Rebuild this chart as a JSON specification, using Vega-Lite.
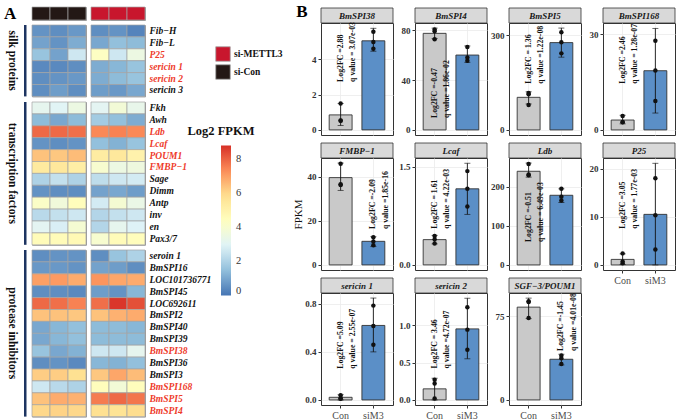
{
  "$schema": "https://vega.github.io/schema/vega-lite/v6.json",
  "padding": {"left": 3, "top": 3, "right": 0, "bottom": 0},
  "config": {
    "font": "Liberation Serif",
    "view": {"stroke": null},
    "axisLeft": {"grid": true, "gridColor": "#ebebeb", "gridWidth": 0.8, "domain": false, "tickSize": 3, "tickColor": "#333", "labelFontSize": 9, "labelFontWeight": "bold", "labelColor": "#333", "labelPadding": 2, "titleFontWeight": "normal", "titleFontSize": 11, "titleColor": "#111", "titlePadding": 4},
    "axisBottom": {"grid": true, "gridColor": "#ebebeb", "gridWidth": 0.8, "domain": false, "tickSize": 3, "tickColor": "#333", "labelFontSize": 10, "labelColor": "#4d4d4d", "labelPadding": 2, "bandPosition": 0.5, "labelAngle": 0}
  },
  "datasets": {
    "heat": [
      {"gene":"Fib\u2212H","cat":"silk","C1":0.6,"C2":0.5,"C3":0.7,"M1":0.5,"M2":0.6,"M3":0.3},
      {"gene":"Fib\u2212L","cat":"silk","C1":0.9,"C2":0.6,"C3":1.1,"M1":1.0,"M2":1.5,"M3":1.4},
      {"gene":"P25","cat":"silk","C1":1.6,"C2":0.9,"C3":2.6,"M1":4.3,"M2":2.6,"M3":3.5},
      {"gene":"sericin 1","cat":"silk","C1":0.4,"C2":0.4,"C3":0.5,"M1":1.1,"M2":1.3,"M3":1.6},
      {"gene":"sericin 2","cat":"silk","C1":0.5,"C2":0.6,"C3":0.7,"M1":1.1,"M2":1.4,"M3":1.6},
      {"gene":"sericin 3","cat":"silk","C1":0.5,"C2":0.8,"C3":0.5,"M1":0.8,"M2":0.7,"M3":1.0},
      {"gene":"Fkh","cat":"tf","C1":3.2,"C2":3.0,"C3":3.5,"M1":3.1,"M2":3.8,"M3":3.3},
      {"gene":"Awh","cat":"tf","C1":1.4,"C2":1.0,"C3":1.4,"M1":1.8,"M2":1.5,"M3":1.1},
      {"gene":"Ldb","cat":"tf","C1":7.9,"C2":7.9,"C3":7.8,"M1":7.4,"M2":7.5,"M3":7.4},
      {"gene":"Lcaf","cat":"tf","C1":0.6,"C2":0.5,"C3":0.6,"M1":1.5,"M2":1.2,"M3":1.6},
      {"gene":"POUM1","cat":"tf","C1":6.4,"C2":6.3,"C3":6.5,"M1":5.3,"M2":5.5,"M3":5.0},
      {"gene":"FMBP\u22121","cat":"tf","C1":5.4,"C2":5.5,"C3":5.2,"M1":4.0,"M2":3.5,"M3":3.6},
      {"gene":"Sage","cat":"tf","C1":2.0,"C2":2.4,"C3":2.0,"M1":2.3,"M2":2.6,"M3":2.7},
      {"gene":"Dimm","cat":"tf","C1":0.6,"C2":0.5,"C3":0.5,"M1":0.9,"M2":1.0,"M3":0.8},
      {"gene":"Antp","cat":"tf","C1":4.2,"C2":3.7,"C3":4.5,"M1":2.7,"M2":3.9,"M3":3.4},
      {"gene":"inv","cat":"tf","C1":2.2,"C2":2.4,"C3":2.6,"M1":2.1,"M2":2.4,"M3":2.6},
      {"gene":"en","cat":"tf","C1":3.1,"C2":2.8,"C3":3.9,"M1":2.1,"M2":3.2,"M3":2.9},
      {"gene":"Pax3/7","cat":"tf","C1":4.6,"C2":4.6,"C3":4.7,"M1":4.0,"M2":4.6,"M3":4.5},
      {"gene":"seroin 1","cat":"pi","C1":0.5,"C2":0.6,"C3":0.6,"M1":0.5,"M2":1.6,"M3":2.0},
      {"gene":"BmSPI16","cat":"pi","C1":0.7,"C2":0.7,"C3":0.6,"M1":0.9,"M2":0.8,"M3":0.5},
      {"gene":"LOC101736771","cat":"pi","C1":7.0,"C2":7.1,"C3":6.8,"M1":7.2,"M2":6.9,"M3":6.8},
      {"gene":"BmSPI45","cat":"pi","C1":0.5,"C2":0.5,"C3":0.4,"M1":0.8,"M2":0.6,"M3":1.3},
      {"gene":"LOC692611","cat":"pi","C1":7.9,"C2":7.8,"C3":7.5,"M1":7.8,"M2":8.7,"M3":8.3},
      {"gene":"BmSPI2","cat":"pi","C1":6.4,"C2":6.4,"C3":6.3,"M1":6.4,"M2":6.7,"M3":6.8},
      {"gene":"BmSPI40","cat":"pi","C1":1.0,"C2":1.3,"C3":1.5,"M1":1.4,"M2":1.4,"M3":1.3},
      {"gene":"BmSPI39","cat":"pi","C1":1.0,"C2":1.3,"C3":1.5,"M1":1.4,"M2":1.4,"M3":1.4},
      {"gene":"BmSPI38","cat":"pi","C1":1.6,"C2":1.0,"C3":1.2,"M1":2.6,"M2":2.6,"M3":3.2},
      {"gene":"BmSPI36","cat":"pi","C1":0.5,"C2":0.6,"C3":0.4,"M1":1.3,"M2":1.2,"M3":1.5},
      {"gene":"BmSPI3","cat":"pi","C1":6.2,"C2":6.2,"C3":5.8,"M1":6.3,"M2":6.9,"M3":6.5},
      {"gene":"BmSPI168","cat":"pi","C1":2.6,"C2":2.2,"C3":2.0,"M1":4.5,"M2":3.8,"M3":4.5},
      {"gene":"BmSPI5","cat":"pi","C1":6.4,"C2":6.8,"C3":6.7,"M1":7.6,"M2":7.9,"M3":7.7},
      {"gene":"BmSPI4","cat":"pi","C1":6.0,"C2":6.1,"C3":6.0,"M1":5.8,"M2":5.7,"M3":5.9}
    ],
    "bars": [
      {"gene":"BmSPI38","group":"Con","mean":0.85,"low":0.25,"high":1.5},
      {"gene":"BmSPI38","group":"siM3","mean":5.05,"low":4.46,"high":5.76},
      {"gene":"BmSPI4","group":"Con","mean":77.4,"low":73.2,"high":81.6},
      {"gene":"BmSPI4","group":"siM3","mean":60,"low":54.2,"high":67.3},
      {"gene":"BmSPI5","group":"Con","mean":103,"low":82,"high":120.5},
      {"gene":"BmSPI5","group":"siM3","mean":276,"low":230,"high":322},
      {"gene":"BmSPI168","group":"Con","mean":3.1,"low":1.9,"high":4.6},
      {"gene":"BmSPI168","group":"siM3","mean":18.6,"low":5.3,"high":31.9},
      {"gene":"FMBP-1","group":"Con","mean":39.6,"low":33.8,"high":46.2},
      {"gene":"FMBP-1","group":"siM3","mean":10.7,"low":8.3,"high":12.8},
      {"gene":"Lcaf","group":"Con","mean":0.385,"low":0.32,"high":0.45},
      {"gene":"Lcaf","group":"siM3","mean":1.16,"low":0.77,"high":1.55},
      {"gene":"Ldb","group":"Con","mean":240,"low":225,"high":261},
      {"gene":"Ldb","group":"siM3","mean":178.5,"low":160,"high":195},
      {"gene":"P25","group":"Con","mean":1.15,"low":0.1,"high":2.3},
      {"gene":"P25","group":"siM3","mean":10.5,"low":0,"high":21.1},
      {"gene":"sericin 1","group":"Con","mean":0.022,"low":0,"high":0.044},
      {"gene":"sericin 1","group":"siM3","mean":0.62,"low":0.4,"high":0.848},
      {"gene":"sericin 2","group":"Con","mean":0.148,"low":0,"high":0.29},
      {"gene":"sericin 2","group":"siM3","mean":0.95,"low":0.55,"high":1.36},
      {"gene":"SGF-3/POUM1","group":"Con","mean":83.3,"low":73,"high":91.4},
      {"gene":"SGF-3/POUM1","group":"siM3","mean":36.5,"low":31.4,"high":41}
    ],
    "pts": [
      {"gene":"BmSPI38","group":"Con","value":1.5},{"gene":"BmSPI38","group":"Con","value":0.52},{"gene":"BmSPI38","group":"Con","value":0.53},
      {"gene":"BmSPI38","group":"siM3","value":5.57},{"gene":"BmSPI38","group":"siM3","value":4.6},{"gene":"BmSPI38","group":"siM3","value":4.98},
      {"gene":"BmSPI4","group":"Con","value":80.5},{"gene":"BmSPI4","group":"Con","value":72.6},{"gene":"BmSPI4","group":"Con","value":79.1},
      {"gene":"BmSPI4","group":"siM3","value":66.5},{"gene":"BmSPI4","group":"siM3","value":55.5},{"gene":"BmSPI4","group":"siM3","value":58},
      {"gene":"BmSPI5","group":"Con","value":117},{"gene":"BmSPI5","group":"Con","value":79},{"gene":"BmSPI5","group":"Con","value":113},
      {"gene":"BmSPI5","group":"siM3","value":309},{"gene":"BmSPI5","group":"siM3","value":242},{"gene":"BmSPI5","group":"siM3","value":277},
      {"gene":"BmSPI168","group":"Con","value":4.4},{"gene":"BmSPI168","group":"Con","value":2.4},{"gene":"BmSPI168","group":"Con","value":2.5},
      {"gene":"BmSPI168","group":"siM3","value":28},{"gene":"BmSPI168","group":"siM3","value":9.1},{"gene":"BmSPI168","group":"siM3","value":18.7},
      {"gene":"FMBP-1","group":"Con","value":45.9},{"gene":"FMBP-1","group":"Con","value":36.6},{"gene":"FMBP-1","group":"Con","value":36.3},
      {"gene":"FMBP-1","group":"siM3","value":12.6},{"gene":"FMBP-1","group":"siM3","value":8.9},{"gene":"FMBP-1","group":"siM3","value":10.6},
      {"gene":"Lcaf","group":"Con","value":0.44},{"gene":"Lcaf","group":"Con","value":0.325},{"gene":"Lcaf","group":"Con","value":0.39},
      {"gene":"Lcaf","group":"siM3","value":1.43},{"gene":"Lcaf","group":"siM3","value":0.89},{"gene":"Lcaf","group":"siM3","value":1.16},
      {"gene":"Ldb","group":"Con","value":258.5},{"gene":"Ldb","group":"Con","value":232},{"gene":"Ldb","group":"Con","value":230},
      {"gene":"Ldb","group":"siM3","value":195},{"gene":"Ldb","group":"siM3","value":165},{"gene":"Ldb","group":"siM3","value":175},
      {"gene":"P25","group":"Con","value":2.4},{"gene":"P25","group":"Con","value":0.35},{"gene":"P25","group":"Con","value":0.7},
      {"gene":"P25","group":"siM3","value":18},{"gene":"P25","group":"siM3","value":3.2},{"gene":"P25","group":"siM3","value":10.3},
      {"gene":"sericin 1","group":"Con","value":0.04},{"gene":"sericin 1","group":"Con","value":0.015},{"gene":"sericin 1","group":"Con","value":0.01},
      {"gene":"sericin 1","group":"siM3","value":0.785},{"gene":"sericin 1","group":"siM3","value":0.46},{"gene":"sericin 1","group":"siM3","value":0.615},
      {"gene":"sericin 2","group":"Con","value":0.27},{"gene":"sericin 2","group":"Con","value":0.22},{"gene":"sericin 2","group":"Con","value":0.02},
      {"gene":"sericin 2","group":"siM3","value":1.24},{"gene":"sericin 2","group":"siM3","value":0.67},{"gene":"sericin 2","group":"siM3","value":0.94},
      {"gene":"SGF-3/POUM1","group":"Con","value":88.7},{"gene":"SGF-3/POUM1","group":"Con","value":73.6},{"gene":"SGF-3/POUM1","group":"Con","value":88},
      {"gene":"SGF-3/POUM1","group":"siM3","value":39.8},{"gene":"SGF-3/POUM1","group":"siM3","value":32.3},{"gene":"SGF-3/POUM1","group":"siM3","value":37.4}
    ],
    "ann": [
      {"gene":"BmSPI38","group":"Con","y":2.72,"lines":["Log2FC =2.88","q value = 3.07e-03"]},
      {"gene":"BmSPI4","group":"Con","y":9.5,"lines":["Log2FC =-0.47","q value =1.86e-02"]},
      {"gene":"BmSPI5","group":"Con","y":146,"lines":["Log2FC = 1.36","q value =1.22e-08"]},
      {"gene":"BmSPI168","group":"Con","y":14.5,"lines":["Log2FC =2.46","q value = 1.28e-07"]},
      {"gene":"FMBP-1","group":"siM3","y":16.3,"lines":["Log2FC =-2.09","q value =1.85e-16"]},
      {"gene":"Lcaf","group":"Con","y":0.55,"lines":["Log2FC = 1.61","q value = 4.22e-03"]},
      {"gene":"Ldb","group":"Con","y":58.5,"lines":["Log2FC =-0.51","q value = 6.49e-03"]},
      {"gene":"P25","group":"Con","y":7.5,"lines":["Log2FC =3.05","q value = 1.77e-03"]},
      {"gene":"sericin 1","group":"Con","y":0.26,"lines":["Log2FC =5.09","q value = 2.55e-07"]},
      {"gene":"sericin 2","group":"Con","y":0.42,"lines":["Log2FC = 3.46","q value =4.72e-07"]},
      {"gene":"SGF-3/POUM1","group":"siM3","y":43.9,"lines":["Log2FC =-1.45","q value =4.01e-08"]}
    ]
  },
  "spacing": 79,
  "hconcat": [
    {
      "concat": [
        {"width": 2.5, "height": 13, "data": {"values": [{"t": "A"}]}, "mark": {"type": "text", "fontSize": 17, "fontWeight": "bold", "align": "right", "dx": -9, "color": "#000"}, "encoding": {"text": {"field": "t"}}},
        {"width": 54, "height": 13, "view": {"stroke": "#9a9a9a", "strokeWidth": 1},
         "data": {"values": [{"s":"C1","cond":"si-Con"},{"s":"C2","cond":"si-Con"},{"s":"C3","cond":"si-Con"}]},
         "mark": {"type": "rect", "stroke": "#a3a3a3", "strokeWidth": 0.7},
         "encoding": {"x": {"field": "s", "type": "nominal", "axis": null, "scale": {"paddingInner": 0, "paddingOuter": 0}},
           "fill": {"field": "cond", "type": "nominal", "scale": {"domain": ["si-METTL3","si-Con"], "range": ["#c8162d","#231815"]}}}},
        {"width": 54, "height": 13, "view": {"stroke": "#9a9a9a", "strokeWidth": 1},
         "data": {"values": [{"s":"M1","cond":"si-METTL3"},{"s":"M2","cond":"si-METTL3"},{"s":"M3","cond":"si-METTL3"}]},
         "mark": {"type": "rect", "stroke": "#a3a3a3", "strokeWidth": 0.7},
         "encoding": {"x": {"field": "s", "type": "nominal", "axis": null, "scale": {"paddingInner": 0, "paddingOuter": 0}},
           "fill": {"field": "cond", "type": "nominal", "scale": {"domain": ["si-METTL3","si-Con"], "range": ["#c8162d","#231815"]},
             "legend": {"orient": "none", "legendX": 191, "legendY": 39, "title": null, "symbolType": "square", "symbolSize": 210, "symbolStrokeColor": "#999", "symbolStrokeWidth": 0.8, "rowPadding": 0, "labelFontSize": 9.5, "labelFontWeight": "bold", "labelColor": "#111", "labelOffset": 3, "padding": 0}}}},
        {"width": 2.5, "height": 71.4, "view": {"fill": "#1d3461", "stroke": null},
         "title": {"text": "silk proteins", "orient": "left", "anchor": "middle", "angle": 90, "offset": -5, "fontSize": 11.5, "fontWeight": "bold", "color": "#111"},
         "data": {"values": [{}]}, "mark": "text", "encoding": {"text": {"value": ""}}},
        {"width": 54, "height": {"step": 11.9}, "view": {"stroke": "#9a9a9a", "strokeWidth": 1},
         "data": {"name": "heat"}, "transform": [{"filter": "datum.cat === 'silk'"}, {"fold": ["C1","C2","C3"], "as": ["s","v"]}],
         "mark": {"type": "rect", "stroke": "#a3a3a3", "strokeWidth": 0.7},
         "encoding": {"x": {"field": "s", "type": "nominal", "axis": null, "scale": {"paddingInner": 0, "paddingOuter": 0}},
           "y": {"field": "gene", "type": "nominal", "sort": null, "axis": null, "scale": {"paddingInner": 0, "paddingOuter": 0}},
           "color": {"field": "v", "type": "quantitative", "scale": {"domain": [0,1.4667,2.9333,4.4,5.8667,7.3333,8.8], "range": ["#4575b4","#91bfdb","#e0f3f8","#ffffbf","#fee090","#fc8d59","#d73027"], "interpolate": "rgb"}}}},
        {"width": 54, "height": {"step": 11.9}, "view": {"stroke": "#9a9a9a", "strokeWidth": 1},
         "data": {"name": "heat"}, "transform": [{"filter": "datum.cat === 'silk'"}, {"fold": ["M1","M2","M3"], "as": ["s","v"]}],
         "mark": {"type": "rect", "stroke": "#a3a3a3", "strokeWidth": 0.7},
         "encoding": {"x": {"field": "s", "type": "nominal", "axis": null, "scale": {"paddingInner": 0, "paddingOuter": 0}},
           "y": {"field": "gene", "type": "nominal", "sort": null, "scale": {"paddingInner": 0, "paddingOuter": 0},
             "axis": {"orient": "right", "title": null, "ticks": false, "domain": false, "grid": false, "labelPadding": 4, "labelFontSize": 9.5, "labelFontStyle": "italic", "labelFontWeight": "bold",
               "labelColor": {"condition": {"test": "indexof(['P25','sericin 1','sericin 2','Ldb','Lcaf','POUM1','FMBP\u22121','BmSPI38','BmSPI168','BmSPI5','BmSPI4'], datum.value) >= 0", "value": "#ee3b2b"}, "value": "#111"}}},
           "color": {"field": "v", "type": "quantitative", "scale": {"domain": [0,1.4667,2.9333,4.4,5.8667,7.3333,8.8], "range": ["#4575b4","#91bfdb","#e0f3f8","#ffffbf","#fee090","#fc8d59","#d73027"], "interpolate": "rgb"},
             "legend": {"orient": "none", "legendX": 163, "legendY": 118, "title": "Log2 FPKM", "titleFontSize": 12.5, "titleFontWeight": "bold", "titleColor": "#111", "titleAnchor": "start", "titleAlign": "center", "titlePadding": 8, "direction": "vertical", "gradientLength": 150, "gradientThickness": 10, "values": [0,2,4,6,8], "labelFontSize": 10.5, "labelColor": "#333", "labelOffset": 5, "gradientStrokeWidth": 0, "padding": 0}}}},
        {"width": 2.5, "height": 142.8, "view": {"fill": "#1d3461", "stroke": null},
         "title": {"text": "transcription factors", "orient": "left", "anchor": "middle", "angle": 90, "offset": -5, "fontSize": 11.5, "fontWeight": "bold", "color": "#111"},
         "data": {"values": [{}]}, "mark": "text", "encoding": {"text": {"value": ""}}},
        {"width": 54, "height": {"step": 11.9}, "view": {"stroke": "#9a9a9a", "strokeWidth": 1},
         "data": {"name": "heat"}, "transform": [{"filter": "datum.cat === 'tf'"}, {"fold": ["C1","C2","C3"], "as": ["s","v"]}],
         "mark": {"type": "rect", "stroke": "#a3a3a3", "strokeWidth": 0.7},
         "encoding": {"x": {"field": "s", "type": "nominal", "axis": null, "scale": {"paddingInner": 0, "paddingOuter": 0}},
           "y": {"field": "gene", "type": "nominal", "sort": null, "axis": null, "scale": {"paddingInner": 0, "paddingOuter": 0}},
           "color": {"field": "v", "type": "quantitative", "scale": {"domain": [0,1.4667,2.9333,4.4,5.8667,7.3333,8.8], "range": ["#4575b4","#91bfdb","#e0f3f8","#ffffbf","#fee090","#fc8d59","#d73027"], "interpolate": "rgb"}}}},
        {"width": 54, "height": {"step": 11.9}, "view": {"stroke": "#9a9a9a", "strokeWidth": 1},
         "data": {"name": "heat"}, "transform": [{"filter": "datum.cat === 'tf'"}, {"fold": ["M1","M2","M3"], "as": ["s","v"]}],
         "mark": {"type": "rect", "stroke": "#a3a3a3", "strokeWidth": 0.7},
         "encoding": {"x": {"field": "s", "type": "nominal", "axis": null, "scale": {"paddingInner": 0, "paddingOuter": 0}},
           "y": {"field": "gene", "type": "nominal", "sort": null, "scale": {"paddingInner": 0, "paddingOuter": 0},
             "axis": {"orient": "right", "title": null, "ticks": false, "domain": false, "grid": false, "labelPadding": 4, "labelFontSize": 9.5, "labelFontStyle": "italic", "labelFontWeight": "bold",
               "labelColor": {"condition": {"test": "indexof(['P25','sericin 1','sericin 2','Ldb','Lcaf','POUM1','FMBP\u22121','BmSPI38','BmSPI168','BmSPI5','BmSPI4'], datum.value) >= 0", "value": "#ee3b2b"}, "value": "#111"}}},
           "color": {"field": "v", "type": "quantitative", "scale": {"domain": [0,1.4667,2.9333,4.4,5.8667,7.3333,8.8], "range": ["#4575b4","#91bfdb","#e0f3f8","#ffffbf","#fee090","#fc8d59","#d73027"], "interpolate": "rgb"}}}},
        {"width": 2.5, "height": 166.6, "view": {"fill": "#1d3461", "stroke": null},
         "title": {"text": "protease inhibitors", "orient": "left", "anchor": "middle", "angle": 90, "offset": -5, "fontSize": 11.5, "fontWeight": "bold", "color": "#111"},
         "data": {"values": [{}]}, "mark": "text", "encoding": {"text": {"value": ""}}},
        {"width": 54, "height": {"step": 11.9}, "view": {"stroke": "#9a9a9a", "strokeWidth": 1},
         "data": {"name": "heat"}, "transform": [{"filter": "datum.cat === 'pi'"}, {"fold": ["C1","C2","C3"], "as": ["s","v"]}],
         "mark": {"type": "rect", "stroke": "#a3a3a3", "strokeWidth": 0.7},
         "encoding": {"x": {"field": "s", "type": "nominal", "axis": null, "scale": {"paddingInner": 0, "paddingOuter": 0}},
           "y": {"field": "gene", "type": "nominal", "sort": null, "axis": null, "scale": {"paddingInner": 0, "paddingOuter": 0}},
           "color": {"field": "v", "type": "quantitative", "scale": {"domain": [0,1.4667,2.9333,4.4,5.8667,7.3333,8.8], "range": ["#4575b4","#91bfdb","#e0f3f8","#ffffbf","#fee090","#fc8d59","#d73027"], "interpolate": "rgb"}}}},
        {"width": 54, "height": {"step": 11.9}, "view": {"stroke": "#9a9a9a", "strokeWidth": 1},
         "data": {"name": "heat"}, "transform": [{"filter": "datum.cat === 'pi'"}, {"fold": ["M1","M2","M3"], "as": ["s","v"]}],
         "mark": {"type": "rect", "stroke": "#a3a3a3", "strokeWidth": 0.7},
         "encoding": {"x": {"field": "s", "type": "nominal", "axis": null, "scale": {"paddingInner": 0, "paddingOuter": 0}},
           "y": {"field": "gene", "type": "nominal", "sort": null, "scale": {"paddingInner": 0, "paddingOuter": 0},
             "axis": {"orient": "right", "title": null, "ticks": false, "domain": false, "grid": false, "labelPadding": 4, "labelFontSize": 9.5, "labelFontStyle": "italic", "labelFontWeight": "bold",
               "labelColor": {"condition": {"test": "indexof(['P25','sericin 1','sericin 2','Ldb','Lcaf','POUM1','FMBP\u22121','BmSPI38','BmSPI168','BmSPI5','BmSPI4'], datum.value) >= 0", "value": "#ee3b2b"}, "value": "#111"}}},
           "color": {"field": "v", "type": "quantitative", "scale": {"domain": [0,1.4667,2.9333,4.4,5.8667,7.3333,8.8], "range": ["#4575b4","#91bfdb","#e0f3f8","#ffffbf","#fee090","#fc8d59","#d73027"], "interpolate": "rgb"}}}}
      ],
      "columns": 3,
      "bounds": "flush",
      "spacing": {"row": 5, "column": 5}
    },
    {
      "concat": [
        {"width": 72, "height": 16, "data": {"values": [{"label": "BmSPI38"}]},
         "layer": [
          {"mark": {"type": "rect", "fill": "#d9d9d9", "stroke": "#333", "strokeWidth": 0.8},
           "encoding": {"x": {"datum": 0, "type": "quantitative", "scale": {"domain": [0,1], "nice": false, "zero": false}, "axis": null}, "x2": {"datum": 1}, "y": {"datum": 0, "type": "quantitative", "scale": {"domain": [0,16], "nice": false, "zero": false}, "axis": null}, "y2": {"datum": 15}}},
          {"mark": {"type": "text", "fontStyle": "italic", "fontWeight": "bold", "fontSize": 9, "color": "#1a1a1a"}, "encoding": {"x": {"datum": 0.5, "type": "quantitative"}, "y": {"datum": 7.5, "type": "quantitative"}, "text": {"field": "label"}}},
          {"data": {"values": [{"t": "B"}]}, "mark": {"type": "text", "fontSize": 17, "fontWeight": "bold", "dx": -19, "align": "center", "color": "#000"}, "encoding": {"x": {"datum": 0, "type": "quantitative"}, "y": {"datum": 11, "type": "quantitative"}, "text": {"field": "t"}}}
         ]},
        {"width": 72, "height": 16, "data": {"values": [{"label": "BmSPI4"}]},
         "layer": [
          {"mark": {"type": "rect", "fill": "#d9d9d9", "stroke": "#333", "strokeWidth": 0.8},
           "encoding": {"x": {"datum": 0, "type": "quantitative", "scale": {"domain": [0,1], "nice": false, "zero": false}, "axis": null}, "x2": {"datum": 1}, "y": {"datum": 0, "type": "quantitative", "scale": {"domain": [0,16], "nice": false, "zero": false}, "axis": null}, "y2": {"datum": 15}}},
          {"mark": {"type": "text", "fontStyle": "italic", "fontWeight": "bold", "fontSize": 9, "color": "#1a1a1a"}, "encoding": {"x": {"datum": 0.5, "type": "quantitative"}, "y": {"datum": 7.5, "type": "quantitative"}, "text": {"field": "label"}}}
         ]},
        {"width": 72, "height": 16, "data": {"values": [{"label": "BmSPI5"}]},
         "layer": [
          {"mark": {"type": "rect", "fill": "#d9d9d9", "stroke": "#333", "strokeWidth": 0.8},
           "encoding": {"x": {"datum": 0, "type": "quantitative", "scale": {"domain": [0,1], "nice": false, "zero": false}, "axis": null}, "x2": {"datum": 1}, "y": {"datum": 0, "type": "quantitative", "scale": {"domain": [0,16], "nice": false, "zero": false}, "axis": null}, "y2": {"datum": 15}}},
          {"mark": {"type": "text", "fontStyle": "italic", "fontWeight": "bold", "fontSize": 9, "color": "#1a1a1a"}, "encoding": {"x": {"datum": 0.5, "type": "quantitative"}, "y": {"datum": 7.5, "type": "quantitative"}, "text": {"field": "label"}}}
         ]},
        {"width": 72, "height": 16, "data": {"values": [{"label": "BmSPI168"}]},
         "layer": [
          {"mark": {"type": "rect", "fill": "#d9d9d9", "stroke": "#333", "strokeWidth": 0.8},
           "encoding": {"x": {"datum": 0, "type": "quantitative", "scale": {"domain": [0,1], "nice": false, "zero": false}, "axis": null}, "x2": {"datum": 1}, "y": {"datum": 0, "type": "quantitative", "scale": {"domain": [0,16], "nice": false, "zero": false}, "axis": null}, "y2": {"datum": 15}}},
          {"mark": {"type": "text", "fontStyle": "italic", "fontWeight": "bold", "fontSize": 9, "color": "#1a1a1a"}, "encoding": {"x": {"datum": 0.5, "type": "quantitative"}, "y": {"datum": 7.5, "type": "quantitative"}, "text": {"field": "label"}}}
         ]},

        {"width": 72, "height": 112, "view": {"stroke": "#333", "strokeWidth": 1},
         "layer": [
          {"data": {"name": "bars"}, "transform": [{"filter": "datum.gene === 'BmSPI38'"}], "mark": {"type": "bar", "stroke": "#333", "strokeWidth": 0.9},
           "encoding": {"x": {"field": "group", "type": "nominal", "title": null, "scale": {"domain": ["Con","siM3"], "paddingInner": 0.3, "paddingOuter": 0.25}, "axis": {"labels": false, "ticks": false}},
             "y": {"field": "mean", "type": "quantitative", "title": null, "scale": {"domain": [-0.29, 6.06], "nice": false, "zero": false}, "axis": {"values": [0,2,4]}},
             "fill": {"condition": {"test": "datum.group === 'Con'", "value": "#c9c9c9"}, "value": "#5b8fc7"}}},
          {"data": {"name": "bars"}, "transform": [{"filter": "datum.gene === 'BmSPI38'"}], "mark": {"type": "rule", "color": "#111", "strokeWidth": 0.9},
           "encoding": {"x": {"field": "group", "type": "nominal"}, "y": {"field": "low", "type": "quantitative"}, "y2": {"field": "high"}}},
          {"data": {"name": "bars"}, "transform": [{"filter": "datum.gene === 'BmSPI38'"}], "mark": {"type": "tick", "color": "#111", "size": 6, "thickness": 0.9},
           "encoding": {"x": {"field": "group", "type": "nominal"}, "y": {"field": "low", "type": "quantitative"}}},
          {"data": {"name": "bars"}, "transform": [{"filter": "datum.gene === 'BmSPI38'"}], "mark": {"type": "tick", "color": "#111", "size": 6, "thickness": 0.9},
           "encoding": {"x": {"field": "group", "type": "nominal"}, "y": {"field": "high", "type": "quantitative"}}},
          {"data": {"name": "pts"}, "transform": [{"filter": "datum.gene === 'BmSPI38'"}], "mark": {"type": "circle", "size": 20, "color": "#111", "opacity": 1},
           "encoding": {"x": {"field": "group", "type": "nominal"}, "y": {"field": "value", "type": "quantitative"}}},
          {"data": {"name": "ann"}, "transform": [{"filter": "datum.gene === 'BmSPI38'"}], "mark": {"type": "text", "angle": 270, "align": "left", "baseline": "middle", "fontWeight": "bold", "fontSize": 7.8, "lineHeight": 12.5, "color": "#111"},
           "encoding": {"x": {"field": "group", "type": "nominal"}, "y": {"field": "y", "type": "quantitative"}, "text": {"field": "lines"}}}
         ]},
        {"width": 72, "height": 112, "view": {"stroke": "#333", "strokeWidth": 1},
         "layer": [
          {"data": {"name": "bars"}, "transform": [{"filter": "datum.gene === 'BmSPI4'"}], "mark": {"type": "bar", "stroke": "#333", "strokeWidth": 0.9},
           "encoding": {"x": {"field": "group", "type": "nominal", "title": null, "scale": {"domain": ["Con","siM3"], "paddingInner": 0.3, "paddingOuter": 0.25}, "axis": {"labels": false, "ticks": false}},
             "y": {"field": "mean", "type": "quantitative", "title": null, "scale": {"domain": [-4.08, 85.7], "nice": false, "zero": false}, "axis": {"values": [0,20,40,60,80]}},
             "fill": {"condition": {"test": "datum.group === 'Con'", "value": "#c9c9c9"}, "value": "#5b8fc7"}}},
          {"data": {"name": "bars"}, "transform": [{"filter": "datum.gene === 'BmSPI4'"}], "mark": {"type": "rule", "color": "#111", "strokeWidth": 0.9},
           "encoding": {"x": {"field": "group", "type": "nominal"}, "y": {"field": "low", "type": "quantitative"}, "y2": {"field": "high"}}},
          {"data": {"name": "bars"}, "transform": [{"filter": "datum.gene === 'BmSPI4'"}], "mark": {"type": "tick", "color": "#111", "size": 6, "thickness": 0.9},
           "encoding": {"x": {"field": "group", "type": "nominal"}, "y": {"field": "low", "type": "quantitative"}}},
          {"data": {"name": "bars"}, "transform": [{"filter": "datum.gene === 'BmSPI4'"}], "mark": {"type": "tick", "color": "#111", "size": 6, "thickness": 0.9},
           "encoding": {"x": {"field": "group", "type": "nominal"}, "y": {"field": "high", "type": "quantitative"}}},
          {"data": {"name": "pts"}, "transform": [{"filter": "datum.gene === 'BmSPI4'"}], "mark": {"type": "circle", "size": 20, "color": "#111", "opacity": 1},
           "encoding": {"x": {"field": "group", "type": "nominal"}, "y": {"field": "value", "type": "quantitative"}}},
          {"data": {"name": "ann"}, "transform": [{"filter": "datum.gene === 'BmSPI4'"}], "mark": {"type": "text", "angle": 270, "align": "left", "baseline": "middle", "fontWeight": "bold", "fontSize": 7.8, "lineHeight": 12.5, "color": "#111"},
           "encoding": {"x": {"field": "group", "type": "nominal"}, "y": {"field": "y", "type": "quantitative"}, "text": {"field": "lines"}}}
         ]},
        {"width": 72, "height": 112, "view": {"stroke": "#333", "strokeWidth": 1},
         "layer": [
          {"data": {"name": "bars"}, "transform": [{"filter": "datum.gene === 'BmSPI5'"}], "mark": {"type": "bar", "stroke": "#333", "strokeWidth": 0.9},
           "encoding": {"x": {"field": "group", "type": "nominal", "title": null, "scale": {"domain": ["Con","siM3"], "paddingInner": 0.3, "paddingOuter": 0.25}, "axis": {"labels": false, "ticks": false}},
             "y": {"field": "mean", "type": "quantitative", "title": null, "scale": {"domain": [-16.1, 338], "nice": false, "zero": false}, "axis": {"values": [0,100,200,300]}},
             "fill": {"condition": {"test": "datum.group === 'Con'", "value": "#c9c9c9"}, "value": "#5b8fc7"}}},
          {"data": {"name": "bars"}, "transform": [{"filter": "datum.gene === 'BmSPI5'"}], "mark": {"type": "rule", "color": "#111", "strokeWidth": 0.9},
           "encoding": {"x": {"field": "group", "type": "nominal"}, "y": {"field": "low", "type": "quantitative"}, "y2": {"field": "high"}}},
          {"data": {"name": "bars"}, "transform": [{"filter": "datum.gene === 'BmSPI5'"}], "mark": {"type": "tick", "color": "#111", "size": 6, "thickness": 0.9},
           "encoding": {"x": {"field": "group", "type": "nominal"}, "y": {"field": "low", "type": "quantitative"}}},
          {"data": {"name": "bars"}, "transform": [{"filter": "datum.gene === 'BmSPI5'"}], "mark": {"type": "tick", "color": "#111", "size": 6, "thickness": 0.9},
           "encoding": {"x": {"field": "group", "type": "nominal"}, "y": {"field": "high", "type": "quantitative"}}},
          {"data": {"name": "pts"}, "transform": [{"filter": "datum.gene === 'BmSPI5'"}], "mark": {"type": "circle", "size": 20, "color": "#111", "opacity": 1},
           "encoding": {"x": {"field": "group", "type": "nominal"}, "y": {"field": "value", "type": "quantitative"}}},
          {"data": {"name": "ann"}, "transform": [{"filter": "datum.gene === 'BmSPI5'"}], "mark": {"type": "text", "angle": 270, "align": "left", "baseline": "middle", "fontWeight": "bold", "fontSize": 7.8, "lineHeight": 12.5, "color": "#111"},
           "encoding": {"x": {"field": "group", "type": "nominal"}, "y": {"field": "y", "type": "quantitative"}, "text": {"field": "lines"}}}
         ]},
        {"width": 72, "height": 112, "view": {"stroke": "#333", "strokeWidth": 1},
         "layer": [
          {"data": {"name": "bars"}, "transform": [{"filter": "datum.gene === 'BmSPI168'"}], "mark": {"type": "bar", "stroke": "#333", "strokeWidth": 0.9},
           "encoding": {"x": {"field": "group", "type": "nominal", "title": null, "scale": {"domain": ["Con","siM3"], "paddingInner": 0.3, "paddingOuter": 0.25}, "axis": {"labels": false, "ticks": false}},
             "y": {"field": "mean", "type": "quantitative", "title": null, "scale": {"domain": [-1.6, 33.6], "nice": false, "zero": false}, "axis": {"values": [0,10,20,30]}},
             "fill": {"condition": {"test": "datum.group === 'Con'", "value": "#c9c9c9"}, "value": "#5b8fc7"}}},
          {"data": {"name": "bars"}, "transform": [{"filter": "datum.gene === 'BmSPI168'"}], "mark": {"type": "rule", "color": "#111", "strokeWidth": 0.9},
           "encoding": {"x": {"field": "group", "type": "nominal"}, "y": {"field": "low", "type": "quantitative"}, "y2": {"field": "high"}}},
          {"data": {"name": "bars"}, "transform": [{"filter": "datum.gene === 'BmSPI168'"}], "mark": {"type": "tick", "color": "#111", "size": 6, "thickness": 0.9},
           "encoding": {"x": {"field": "group", "type": "nominal"}, "y": {"field": "low", "type": "quantitative"}}},
          {"data": {"name": "bars"}, "transform": [{"filter": "datum.gene === 'BmSPI168'"}], "mark": {"type": "tick", "color": "#111", "size": 6, "thickness": 0.9},
           "encoding": {"x": {"field": "group", "type": "nominal"}, "y": {"field": "high", "type": "quantitative"}}},
          {"data": {"name": "pts"}, "transform": [{"filter": "datum.gene === 'BmSPI168'"}], "mark": {"type": "circle", "size": 20, "color": "#111", "opacity": 1},
           "encoding": {"x": {"field": "group", "type": "nominal"}, "y": {"field": "value", "type": "quantitative"}}},
          {"data": {"name": "ann"}, "transform": [{"filter": "datum.gene === 'BmSPI168'"}], "mark": {"type": "text", "angle": 270, "align": "left", "baseline": "middle", "fontWeight": "bold", "fontSize": 7.8, "lineHeight": 12.5, "color": "#111"},
           "encoding": {"x": {"field": "group", "type": "nominal"}, "y": {"field": "y", "type": "quantitative"}, "text": {"field": "lines"}}}
         ]},

        {"width": 72, "height": 23, "data": {"values": [{"label": "FMBP\u22121"}]},
         "layer": [
          {"mark": {"type": "rect", "fill": "#d9d9d9", "stroke": "#333", "strokeWidth": 0.8},
           "encoding": {"x": {"datum": 0, "type": "quantitative", "scale": {"domain": [0,1], "nice": false, "zero": false}, "axis": null}, "x2": {"datum": 1}, "y": {"datum": 0, "type": "quantitative", "scale": {"domain": [0,23], "nice": false, "zero": false}, "axis": null}, "y2": {"datum": 15}}},
          {"mark": {"type": "text", "fontStyle": "italic", "fontWeight": "bold", "fontSize": 9, "color": "#1a1a1a"}, "encoding": {"x": {"datum": 0.5, "type": "quantitative"}, "y": {"datum": 7.5, "type": "quantitative"}, "text": {"field": "label"}}}
         ]},
        {"width": 72, "height": 23, "data": {"values": [{"label": "Lcaf"}]},
         "layer": [
          {"mark": {"type": "rect", "fill": "#d9d9d9", "stroke": "#333", "strokeWidth": 0.8},
           "encoding": {"x": {"datum": 0, "type": "quantitative", "scale": {"domain": [0,1], "nice": false, "zero": false}, "axis": null}, "x2": {"datum": 1}, "y": {"datum": 0, "type": "quantitative", "scale": {"domain": [0,23], "nice": false, "zero": false}, "axis": null}, "y2": {"datum": 15}}},
          {"mark": {"type": "text", "fontStyle": "italic", "fontWeight": "bold", "fontSize": 9, "color": "#1a1a1a"}, "encoding": {"x": {"datum": 0.5, "type": "quantitative"}, "y": {"datum": 7.5, "type": "quantitative"}, "text": {"field": "label"}}}
         ]},
        {"width": 72, "height": 23, "data": {"values": [{"label": "Ldb"}]},
         "layer": [
          {"mark": {"type": "rect", "fill": "#d9d9d9", "stroke": "#333", "strokeWidth": 0.8},
           "encoding": {"x": {"datum": 0, "type": "quantitative", "scale": {"domain": [0,1], "nice": false, "zero": false}, "axis": null}, "x2": {"datum": 1}, "y": {"datum": 0, "type": "quantitative", "scale": {"domain": [0,23], "nice": false, "zero": false}, "axis": null}, "y2": {"datum": 15}}},
          {"mark": {"type": "text", "fontStyle": "italic", "fontWeight": "bold", "fontSize": 9, "color": "#1a1a1a"}, "encoding": {"x": {"datum": 0.5, "type": "quantitative"}, "y": {"datum": 7.5, "type": "quantitative"}, "text": {"field": "label"}}}
         ]},
        {"width": 72, "height": 23, "data": {"values": [{"label": "P25"}]},
         "layer": [
          {"mark": {"type": "rect", "fill": "#d9d9d9", "stroke": "#333", "strokeWidth": 0.8},
           "encoding": {"x": {"datum": 0, "type": "quantitative", "scale": {"domain": [0,1], "nice": false, "zero": false}, "axis": null}, "x2": {"datum": 1}, "y": {"datum": 0, "type": "quantitative", "scale": {"domain": [0,23], "nice": false, "zero": false}, "axis": null}, "y2": {"datum": 15}}},
          {"mark": {"type": "text", "fontStyle": "italic", "fontWeight": "bold", "fontSize": 9, "color": "#1a1a1a"}, "encoding": {"x": {"datum": 0.5, "type": "quantitative"}, "y": {"datum": 7.5, "type": "quantitative"}, "text": {"field": "label"}}}
         ]},

        {"width": 72, "height": 112, "view": {"stroke": "#333", "strokeWidth": 1},
         "layer": [
          {"data": {"name": "bars"}, "transform": [{"filter": "datum.gene === 'FMBP-1'"}], "mark": {"type": "bar", "stroke": "#333", "strokeWidth": 0.9},
           "encoding": {"x": {"field": "group", "type": "nominal", "title": null, "scale": {"domain": ["Con","siM3"], "paddingInner": 0.3, "paddingOuter": 0.25}, "axis": {"labels": false, "ticks": false}},
             "y": {"field": "mean", "type": "quantitative", "title": "FPKM", "scale": {"domain": [-2.31, 48.5], "nice": false, "zero": false}, "axis": {"values": [0,10,20,30,40]}},
             "fill": {"condition": {"test": "datum.group === 'Con'", "value": "#c9c9c9"}, "value": "#5b8fc7"}}},
          {"data": {"name": "bars"}, "transform": [{"filter": "datum.gene === 'FMBP-1'"}], "mark": {"type": "rule", "color": "#111", "strokeWidth": 0.9},
           "encoding": {"x": {"field": "group", "type": "nominal"}, "y": {"field": "low", "type": "quantitative"}, "y2": {"field": "high"}}},
          {"data": {"name": "bars"}, "transform": [{"filter": "datum.gene === 'FMBP-1'"}], "mark": {"type": "tick", "color": "#111", "size": 6, "thickness": 0.9},
           "encoding": {"x": {"field": "group", "type": "nominal"}, "y": {"field": "low", "type": "quantitative"}}},
          {"data": {"name": "bars"}, "transform": [{"filter": "datum.gene === 'FMBP-1'"}], "mark": {"type": "tick", "color": "#111", "size": 6, "thickness": 0.9},
           "encoding": {"x": {"field": "group", "type": "nominal"}, "y": {"field": "high", "type": "quantitative"}}},
          {"data": {"name": "pts"}, "transform": [{"filter": "datum.gene === 'FMBP-1'"}], "mark": {"type": "circle", "size": 20, "color": "#111", "opacity": 1},
           "encoding": {"x": {"field": "group", "type": "nominal"}, "y": {"field": "value", "type": "quantitative"}}},
          {"data": {"name": "ann"}, "transform": [{"filter": "datum.gene === 'FMBP-1'"}], "mark": {"type": "text", "angle": 270, "align": "left", "baseline": "middle", "fontWeight": "bold", "fontSize": 7.8, "lineHeight": 12.5, "color": "#111"},
           "encoding": {"x": {"field": "group", "type": "nominal"}, "y": {"field": "y", "type": "quantitative"}, "text": {"field": "lines"}}}
         ]},
        {"width": 72, "height": 112, "view": {"stroke": "#333", "strokeWidth": 1},
         "layer": [
          {"data": {"name": "bars"}, "transform": [{"filter": "datum.gene === 'Lcaf'"}], "mark": {"type": "bar", "stroke": "#333", "strokeWidth": 0.9},
           "encoding": {"x": {"field": "group", "type": "nominal", "title": null, "scale": {"domain": ["Con","siM3"], "paddingInner": 0.3, "paddingOuter": 0.25}, "axis": {"labels": false, "ticks": false}},
             "y": {"field": "mean", "type": "quantitative", "title": null, "scale": {"domain": [-0.078, 1.63], "nice": false, "zero": false}, "axis": {"values": [0,0.5,1,1.5], "format": ".1f"}},
             "fill": {"condition": {"test": "datum.group === 'Con'", "value": "#c9c9c9"}, "value": "#5b8fc7"}}},
          {"data": {"name": "bars"}, "transform": [{"filter": "datum.gene === 'Lcaf'"}], "mark": {"type": "rule", "color": "#111", "strokeWidth": 0.9},
           "encoding": {"x": {"field": "group", "type": "nominal"}, "y": {"field": "low", "type": "quantitative"}, "y2": {"field": "high"}}},
          {"data": {"name": "bars"}, "transform": [{"filter": "datum.gene === 'Lcaf'"}], "mark": {"type": "tick", "color": "#111", "size": 6, "thickness": 0.9},
           "encoding": {"x": {"field": "group", "type": "nominal"}, "y": {"field": "low", "type": "quantitative"}}},
          {"data": {"name": "bars"}, "transform": [{"filter": "datum.gene === 'Lcaf'"}], "mark": {"type": "tick", "color": "#111", "size": 6, "thickness": 0.9},
           "encoding": {"x": {"field": "group", "type": "nominal"}, "y": {"field": "high", "type": "quantitative"}}},
          {"data": {"name": "pts"}, "transform": [{"filter": "datum.gene === 'Lcaf'"}], "mark": {"type": "circle", "size": 20, "color": "#111", "opacity": 1},
           "encoding": {"x": {"field": "group", "type": "nominal"}, "y": {"field": "value", "type": "quantitative"}}},
          {"data": {"name": "ann"}, "transform": [{"filter": "datum.gene === 'Lcaf'"}], "mark": {"type": "text", "angle": 270, "align": "left", "baseline": "middle", "fontWeight": "bold", "fontSize": 7.8, "lineHeight": 12.5, "color": "#111"},
           "encoding": {"x": {"field": "group", "type": "nominal"}, "y": {"field": "y", "type": "quantitative"}, "text": {"field": "lines"}}}
         ]},
        {"width": 72, "height": 112, "view": {"stroke": "#333", "strokeWidth": 1},
         "layer": [
          {"data": {"name": "bars"}, "transform": [{"filter": "datum.gene === 'Ldb'"}], "mark": {"type": "bar", "stroke": "#333", "strokeWidth": 0.9},
           "encoding": {"x": {"field": "group", "type": "nominal", "title": null, "scale": {"domain": ["Con","siM3"], "paddingInner": 0.3, "paddingOuter": 0.25}, "axis": {"labels": false, "ticks": false}},
             "y": {"field": "mean", "type": "quantitative", "title": null, "scale": {"domain": [-13, 274], "nice": false, "zero": false}, "axis": {"values": [0,100,200]}},
             "fill": {"condition": {"test": "datum.group === 'Con'", "value": "#c9c9c9"}, "value": "#5b8fc7"}}},
          {"data": {"name": "bars"}, "transform": [{"filter": "datum.gene === 'Ldb'"}], "mark": {"type": "rule", "color": "#111", "strokeWidth": 0.9},
           "encoding": {"x": {"field": "group", "type": "nominal"}, "y": {"field": "low", "type": "quantitative"}, "y2": {"field": "high"}}},
          {"data": {"name": "bars"}, "transform": [{"filter": "datum.gene === 'Ldb'"}], "mark": {"type": "tick", "color": "#111", "size": 6, "thickness": 0.9},
           "encoding": {"x": {"field": "group", "type": "nominal"}, "y": {"field": "low", "type": "quantitative"}}},
          {"data": {"name": "bars"}, "transform": [{"filter": "datum.gene === 'Ldb'"}], "mark": {"type": "tick", "color": "#111", "size": 6, "thickness": 0.9},
           "encoding": {"x": {"field": "group", "type": "nominal"}, "y": {"field": "high", "type": "quantitative"}}},
          {"data": {"name": "pts"}, "transform": [{"filter": "datum.gene === 'Ldb'"}], "mark": {"type": "circle", "size": 20, "color": "#111", "opacity": 1},
           "encoding": {"x": {"field": "group", "type": "nominal"}, "y": {"field": "value", "type": "quantitative"}}},
          {"data": {"name": "ann"}, "transform": [{"filter": "datum.gene === 'Ldb'"}], "mark": {"type": "text", "angle": 270, "align": "left", "baseline": "middle", "fontWeight": "bold", "fontSize": 7.8, "lineHeight": 12.5, "color": "#111"},
           "encoding": {"x": {"field": "group", "type": "nominal"}, "y": {"field": "y", "type": "quantitative"}, "text": {"field": "lines"}}}
         ]},
        {"width": 72, "height": 112, "view": {"stroke": "#333", "strokeWidth": 1},
         "layer": [
          {"data": {"name": "bars"}, "transform": [{"filter": "datum.gene === 'P25'"}], "mark": {"type": "bar", "stroke": "#333", "strokeWidth": 0.9},
           "encoding": {"x": {"field": "group", "type": "nominal", "title": null, "scale": {"domain": ["Con","siM3"], "paddingInner": 0.3, "paddingOuter": 0.25}, "axis": {"labels": true, "ticks": true}},
             "y": {"field": "mean", "type": "quantitative", "title": null, "scale": {"domain": [-1.05, 22.2], "nice": false, "zero": false}, "axis": {"values": [0,5,10,15,20]}},
             "fill": {"condition": {"test": "datum.group === 'Con'", "value": "#c9c9c9"}, "value": "#5b8fc7"}}},
          {"data": {"name": "bars"}, "transform": [{"filter": "datum.gene === 'P25'"}], "mark": {"type": "rule", "color": "#111", "strokeWidth": 0.9},
           "encoding": {"x": {"field": "group", "type": "nominal"}, "y": {"field": "low", "type": "quantitative"}, "y2": {"field": "high"}}},
          {"data": {"name": "bars"}, "transform": [{"filter": "datum.gene === 'P25'"}], "mark": {"type": "tick", "color": "#111", "size": 6, "thickness": 0.9},
           "encoding": {"x": {"field": "group", "type": "nominal"}, "y": {"field": "low", "type": "quantitative"}}},
          {"data": {"name": "bars"}, "transform": [{"filter": "datum.gene === 'P25'"}], "mark": {"type": "tick", "color": "#111", "size": 6, "thickness": 0.9},
           "encoding": {"x": {"field": "group", "type": "nominal"}, "y": {"field": "high", "type": "quantitative"}}},
          {"data": {"name": "pts"}, "transform": [{"filter": "datum.gene === 'P25'"}], "mark": {"type": "circle", "size": 20, "color": "#111", "opacity": 1},
           "encoding": {"x": {"field": "group", "type": "nominal"}, "y": {"field": "value", "type": "quantitative"}}},
          {"data": {"name": "ann"}, "transform": [{"filter": "datum.gene === 'P25'"}], "mark": {"type": "text", "angle": 270, "align": "left", "baseline": "middle", "fontWeight": "bold", "fontSize": 7.8, "lineHeight": 12.5, "color": "#111"},
           "encoding": {"x": {"field": "group", "type": "nominal"}, "y": {"field": "y", "type": "quantitative"}, "text": {"field": "lines"}}}
         ]},

        {"width": 72, "height": 23, "data": {"values": [{"label": "sericin 1"}]},
         "layer": [
          {"mark": {"type": "rect", "fill": "#d9d9d9", "stroke": "#333", "strokeWidth": 0.8},
           "encoding": {"x": {"datum": 0, "type": "quantitative", "scale": {"domain": [0,1], "nice": false, "zero": false}, "axis": null}, "x2": {"datum": 1}, "y": {"datum": 0, "type": "quantitative", "scale": {"domain": [0,23], "nice": false, "zero": false}, "axis": null}, "y2": {"datum": 15}}},
          {"mark": {"type": "text", "fontStyle": "italic", "fontWeight": "bold", "fontSize": 9, "color": "#1a1a1a"}, "encoding": {"x": {"datum": 0.5, "type": "quantitative"}, "y": {"datum": 7.5, "type": "quantitative"}, "text": {"field": "label"}}}
         ]},
        {"width": 72, "height": 23, "data": {"values": [{"label": "sericin 2"}]},
         "layer": [
          {"mark": {"type": "rect", "fill": "#d9d9d9", "stroke": "#333", "strokeWidth": 0.8},
           "encoding": {"x": {"datum": 0, "type": "quantitative", "scale": {"domain": [0,1], "nice": false, "zero": false}, "axis": null}, "x2": {"datum": 1}, "y": {"datum": 0, "type": "quantitative", "scale": {"domain": [0,23], "nice": false, "zero": false}, "axis": null}, "y2": {"datum": 15}}},
          {"mark": {"type": "text", "fontStyle": "italic", "fontWeight": "bold", "fontSize": 9, "color": "#1a1a1a"}, "encoding": {"x": {"datum": 0.5, "type": "quantitative"}, "y": {"datum": 7.5, "type": "quantitative"}, "text": {"field": "label"}}}
         ]},
        {"width": 72, "height": 23, "data": {"values": [{"label": "SGF\u22123/POUM1"}]},
         "layer": [
          {"mark": {"type": "rect", "fill": "#d9d9d9", "stroke": "#333", "strokeWidth": 0.8},
           "encoding": {"x": {"datum": 0, "type": "quantitative", "scale": {"domain": [0,1], "nice": false, "zero": false}, "axis": null}, "x2": {"datum": 1}, "y": {"datum": 0, "type": "quantitative", "scale": {"domain": [0,23], "nice": false, "zero": false}, "axis": null}, "y2": {"datum": 15}}},
          {"mark": {"type": "text", "fontStyle": "italic", "fontWeight": "bold", "fontSize": 9, "color": "#1a1a1a"}, "encoding": {"x": {"datum": 0.5, "type": "quantitative"}, "y": {"datum": 7.5, "type": "quantitative"}, "text": {"field": "label"}}}
         ]},
        {"width": 72, "height": 1, "data": {"values": [{}]}, "mark": "text", "encoding": {"text": {"value": ""}}},

        {"width": 72, "height": 112, "view": {"stroke": "#333", "strokeWidth": 1},
         "layer": [
          {"data": {"name": "bars"}, "transform": [{"filter": "datum.gene === 'sericin 1'"}], "mark": {"type": "bar", "stroke": "#333", "strokeWidth": 0.9},
           "encoding": {"x": {"field": "group", "type": "nominal", "title": null, "scale": {"domain": ["Con","siM3"], "paddingInner": 0.3, "paddingOuter": 0.25}, "axis": {"labels": true, "ticks": true}},
             "y": {"field": "mean", "type": "quantitative", "title": null, "scale": {"domain": [-0.042, 0.89], "nice": false, "zero": false}, "axis": {"values": [0,0.2,0.4,0.6,0.8], "format": ".1f"}},
             "fill": {"condition": {"test": "datum.group === 'Con'", "value": "#c9c9c9"}, "value": "#5b8fc7"}}},
          {"data": {"name": "bars"}, "transform": [{"filter": "datum.gene === 'sericin 1'"}], "mark": {"type": "rule", "color": "#111", "strokeWidth": 0.9},
           "encoding": {"x": {"field": "group", "type": "nominal"}, "y": {"field": "low", "type": "quantitative"}, "y2": {"field": "high"}}},
          {"data": {"name": "bars"}, "transform": [{"filter": "datum.gene === 'sericin 1'"}], "mark": {"type": "tick", "color": "#111", "size": 6, "thickness": 0.9},
           "encoding": {"x": {"field": "group", "type": "nominal"}, "y": {"field": "low", "type": "quantitative"}}},
          {"data": {"name": "bars"}, "transform": [{"filter": "datum.gene === 'sericin 1'"}], "mark": {"type": "tick", "color": "#111", "size": 6, "thickness": 0.9},
           "encoding": {"x": {"field": "group", "type": "nominal"}, "y": {"field": "high", "type": "quantitative"}}},
          {"data": {"name": "pts"}, "transform": [{"filter": "datum.gene === 'sericin 1'"}], "mark": {"type": "circle", "size": 20, "color": "#111", "opacity": 1},
           "encoding": {"x": {"field": "group", "type": "nominal"}, "y": {"field": "value", "type": "quantitative"}}},
          {"data": {"name": "ann"}, "transform": [{"filter": "datum.gene === 'sericin 1'"}], "mark": {"type": "text", "angle": 270, "align": "left", "baseline": "middle", "fontWeight": "bold", "fontSize": 7.8, "lineHeight": 12.5, "color": "#111"},
           "encoding": {"x": {"field": "group", "type": "nominal"}, "y": {"field": "y", "type": "quantitative"}, "text": {"field": "lines"}}}
         ]},
        {"width": 72, "height": 112, "view": {"stroke": "#333", "strokeWidth": 1},
         "layer": [
          {"data": {"name": "bars"}, "transform": [{"filter": "datum.gene === 'sericin 2'"}], "mark": {"type": "bar", "stroke": "#333", "strokeWidth": 0.9},
           "encoding": {"x": {"field": "group", "type": "nominal", "title": null, "scale": {"domain": ["Con","siM3"], "paddingInner": 0.3, "paddingOuter": 0.25}, "axis": {"labels": true, "ticks": true}},
             "y": {"field": "mean", "type": "quantitative", "title": null, "scale": {"domain": [-0.068, 1.43], "nice": false, "zero": false}, "axis": {"values": [0,0.5,1], "format": ".1f"}},
             "fill": {"condition": {"test": "datum.group === 'Con'", "value": "#c9c9c9"}, "value": "#5b8fc7"}}},
          {"data": {"name": "bars"}, "transform": [{"filter": "datum.gene === 'sericin 2'"}], "mark": {"type": "rule", "color": "#111", "strokeWidth": 0.9},
           "encoding": {"x": {"field": "group", "type": "nominal"}, "y": {"field": "low", "type": "quantitative"}, "y2": {"field": "high"}}},
          {"data": {"name": "bars"}, "transform": [{"filter": "datum.gene === 'sericin 2'"}], "mark": {"type": "tick", "color": "#111", "size": 6, "thickness": 0.9},
           "encoding": {"x": {"field": "group", "type": "nominal"}, "y": {"field": "low", "type": "quantitative"}}},
          {"data": {"name": "bars"}, "transform": [{"filter": "datum.gene === 'sericin 2'"}], "mark": {"type": "tick", "color": "#111", "size": 6, "thickness": 0.9},
           "encoding": {"x": {"field": "group", "type": "nominal"}, "y": {"field": "high", "type": "quantitative"}}},
          {"data": {"name": "pts"}, "transform": [{"filter": "datum.gene === 'sericin 2'"}], "mark": {"type": "circle", "size": 20, "color": "#111", "opacity": 1},
           "encoding": {"x": {"field": "group", "type": "nominal"}, "y": {"field": "value", "type": "quantitative"}}},
          {"data": {"name": "ann"}, "transform": [{"filter": "datum.gene === 'sericin 2'"}], "mark": {"type": "text", "angle": 270, "align": "left", "baseline": "middle", "fontWeight": "bold", "fontSize": 7.8, "lineHeight": 12.5, "color": "#111"},
           "encoding": {"x": {"field": "group", "type": "nominal"}, "y": {"field": "y", "type": "quantitative"}, "text": {"field": "lines"}}}
         ]},
        {"width": 72, "height": 112, "view": {"stroke": "#333", "strokeWidth": 1},
         "layer": [
          {"data": {"name": "bars"}, "transform": [{"filter": "datum.gene === 'SGF-3/POUM1'"}], "mark": {"type": "bar", "stroke": "#333", "strokeWidth": 0.9},
           "encoding": {"x": {"field": "group", "type": "nominal", "title": null, "scale": {"domain": ["Con","siM3"], "paddingInner": 0.3, "paddingOuter": 0.25}, "axis": {"labels": true, "ticks": true}},
             "y": {"field": "mean", "type": "quantitative", "title": null, "scale": {"domain": [-4.57, 96], "nice": false, "zero": false}, "axis": {"values": [0,25,50,75]}},
             "fill": {"condition": {"test": "datum.group === 'Con'", "value": "#c9c9c9"}, "value": "#5b8fc7"}}},
          {"data": {"name": "bars"}, "transform": [{"filter": "datum.gene === 'SGF-3/POUM1'"}], "mark": {"type": "rule", "color": "#111", "strokeWidth": 0.9},
           "encoding": {"x": {"field": "group", "type": "nominal"}, "y": {"field": "low", "type": "quantitative"}, "y2": {"field": "high"}}},
          {"data": {"name": "bars"}, "transform": [{"filter": "datum.gene === 'SGF-3/POUM1'"}], "mark": {"type": "tick", "color": "#111", "size": 6, "thickness": 0.9},
           "encoding": {"x": {"field": "group", "type": "nominal"}, "y": {"field": "low", "type": "quantitative"}}},
          {"data": {"name": "bars"}, "transform": [{"filter": "datum.gene === 'SGF-3/POUM1'"}], "mark": {"type": "tick", "color": "#111", "size": 6, "thickness": 0.9},
           "encoding": {"x": {"field": "group", "type": "nominal"}, "y": {"field": "high", "type": "quantitative"}}},
          {"data": {"name": "pts"}, "transform": [{"filter": "datum.gene === 'SGF-3/POUM1'"}], "mark": {"type": "circle", "size": 20, "color": "#111", "opacity": 1},
           "encoding": {"x": {"field": "group", "type": "nominal"}, "y": {"field": "value", "type": "quantitative"}}},
          {"data": {"name": "ann"}, "transform": [{"filter": "datum.gene === 'SGF-3/POUM1'"}], "mark": {"type": "text", "angle": 270, "align": "left", "baseline": "middle", "fontWeight": "bold", "fontSize": 7.8, "lineHeight": 12.5, "color": "#111"},
           "encoding": {"x": {"field": "group", "type": "nominal"}, "y": {"field": "y", "type": "quantitative"}, "text": {"field": "lines"}}}
         ]},
        {"width": 72, "height": 1, "data": {"values": [{}]}, "mark": "text", "encoding": {"text": {"value": ""}}}
      ],
      "columns": 4,
      "bounds": "flush",
      "spacing": {"row": 0, "column": 22}
    }
  ]
}
